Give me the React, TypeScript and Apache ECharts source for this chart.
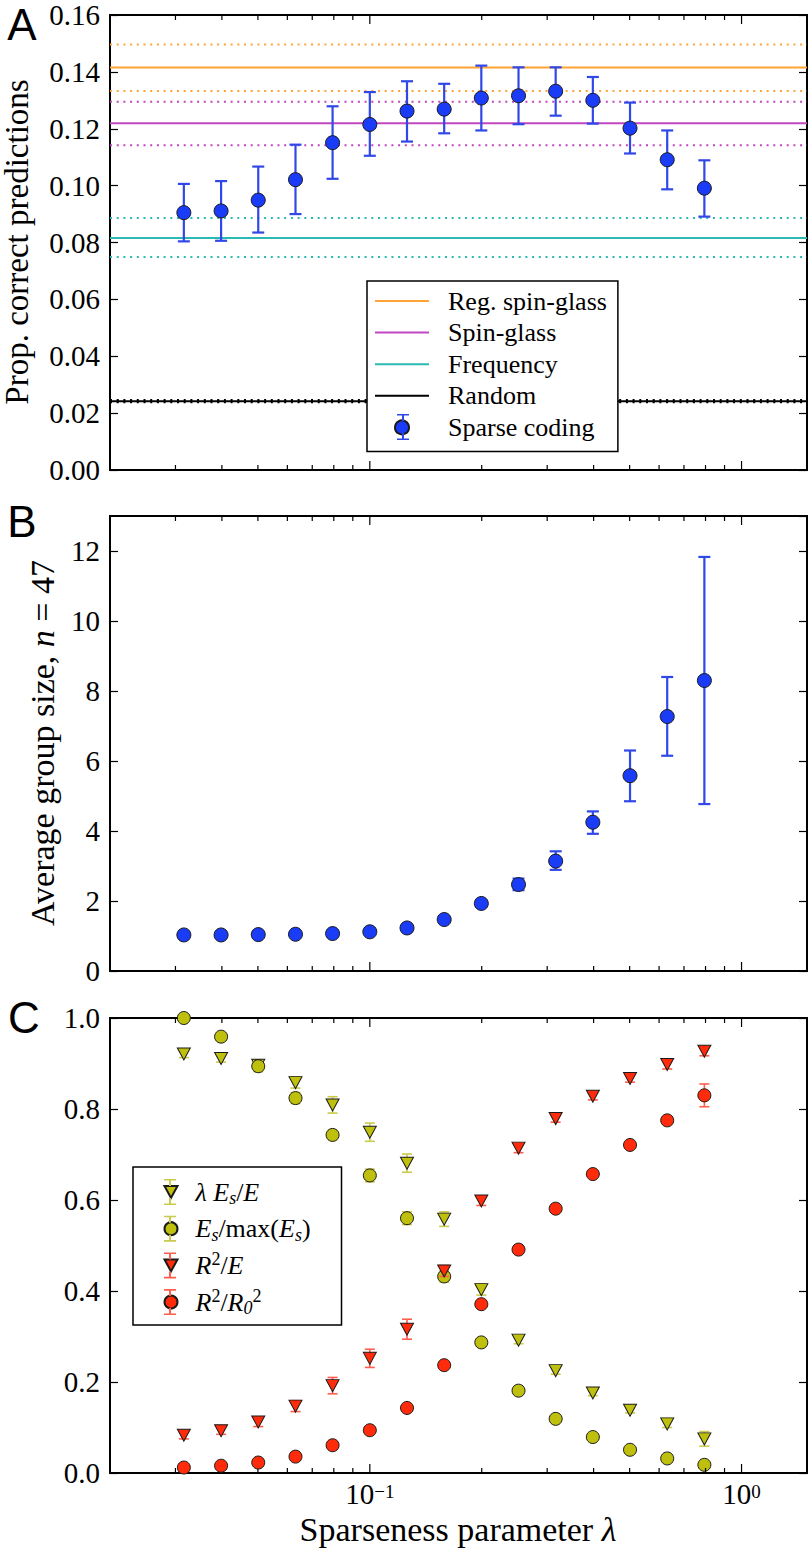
import React, { useEffect, useRef } from 'react';
import * as echarts from 'echarts';

// ---------- shared x (sparseness parameter λ) ----------
const lambdas = [0.0316, 0.0398, 0.0501, 0.0631, 0.0794, 0.1, 0.1259, 0.1585, 0.1995, 0.2512, 0.3162, 0.3981, 0.5012, 0.631, 0.7943];
const xMin = 0.02;
const xMax = 1.5;
const xMajorTicks = [0.1, 1];
const xMinorTicks = [0.03, 0.04, 0.05, 0.06, 0.07, 0.08, 0.09, 0.2, 0.3, 0.4, 0.5, 0.6, 0.7, 0.8, 0.9];

// ---------- panel A ----------
const propCorrect = [0.0905, 0.0911, 0.0949, 0.1021, 0.1151, 0.1215, 0.1262, 0.1269, 0.1308, 0.1316, 0.1332, 0.13, 0.1202, 0.1091, 0.0991];
const propLow = [0.0804, 0.0806, 0.0835, 0.09, 0.1024, 0.1105, 0.1155, 0.1184, 0.1194, 0.1216, 0.1246, 0.1218, 0.1113, 0.0987, 0.0891];
const propHigh = [0.1006, 0.1016, 0.1067, 0.1144, 0.1279, 0.1329, 0.1367, 0.1358, 0.1422, 0.1416, 0.1416, 0.1382, 0.1292, 0.1194, 0.1089];
const baselineNames = ['Reg. spin-glass', 'Spin-glass', 'Frequency', 'Random'];
const baselineValues = [0.1415, 0.1219, 0.0816, 0.0242];
const baselineLower = [0.1333, 0.1142, 0.0749, 0.0238];
const baselineUpper = [0.1496, 0.1295, 0.0886, 0.0246];
const baselineColors = ['#ffa435', '#c146c1', '#2bbab3', '#000000'];
const yA = { min: 0, max: 0.16, interval: 0.02 };

// ---------- panel B ----------
const groupSize = [1.03, 1.03, 1.04, 1.05, 1.07, 1.12, 1.23, 1.47, 1.93, 2.47, 3.14, 4.25, 5.58, 7.27, 8.3];
const groupLow = [1.0, 1.0, 1.01, 1.02, 1.04, 1.08, 1.18, 1.41, 1.85, 2.31, 2.89, 3.92, 4.85, 6.15, 4.77];
const groupHigh = [1.06, 1.06, 1.07, 1.08, 1.1, 1.16, 1.28, 1.53, 2.01, 2.64, 3.42, 4.56, 6.3, 8.4, 11.83];
const yB = { min: 0, max: 13, interval: 2 };

// ---------- panel C ----------
const lamEsOverE = [0.921, 0.911, 0.896, 0.858, 0.809, 0.749, 0.681, 0.558, 0.403, 0.292, 0.225, 0.176, 0.138, 0.108, 0.075];
const lamEsOverEErr = [0.008, 0.008, 0.012, 0.012, 0.018, 0.02, 0.02, 0.016, 0.012, 0.008, 0.008, 0.006, 0.006, 0.008, 0.016];
const esOverMax = [1.0, 0.959, 0.894, 0.824, 0.743, 0.654, 0.56, 0.432, 0.287, 0.181, 0.119, 0.079, 0.051, 0.032, 0.018];
const esOverMaxErr = [0.004, 0.008, 0.012, 0.012, 0.01, 0.014, 0.014, 0.012, 0.008, 0.006, 0.005, 0.004, 0.004, 0.003, 0.003];
const r2OverE = [0.083, 0.093, 0.112, 0.147, 0.192, 0.252, 0.316, 0.444, 0.598, 0.714, 0.779, 0.828, 0.867, 0.898, 0.927];
const r2OverEErr = [0.008, 0.008, 0.01, 0.012, 0.018, 0.02, 0.022, 0.012, 0.01, 0.01, 0.008, 0.008, 0.008, 0.01, 0.01];
const r2OverR0 = [0.012, 0.016, 0.023, 0.036, 0.061, 0.094, 0.143, 0.237, 0.371, 0.491, 0.581, 0.657, 0.721, 0.775, 0.83];
const r2OverR0Err = [0.003, 0.003, 0.004, 0.005, 0.006, 0.006, 0.006, 0.006, 0.006, 0.006, 0.006, 0.006, 0.006, 0.008, 0.025];
const yC = { min: 0, max: 1, interval: 0.2 };

const cSeriesNames = ['lamEsE', 'EsMax', 'R2E', 'R2R0'];
const cLegendLabels: Record<string, string> = {
  lamEsE: '{i|λ} {i|E}{sub|s}{n|/}{i|E}',
  EsMax: '{i|E}{sub|s}{n|/max(}{i|E}{sub|s}{n|)}',
  R2E: '{i|R}{sup|2}{n|/}{i|E}',
  R2R0: '{i|R}{sup|2}{n|/}{i|R}{sub|0}{sup|2}',
};

const SERIF = 'Liberation Serif';
const GSERIF = 'serif';
const SANS = 'Liberation Sans';

const BLUE = '#1b3cf7';
const BLUE_ERR = '#3048e8';
const YEL = '#bfbf0e';
const YEL_ERR = '#caca4e';
const RED = '#ff2b0b';
const RED_ERR = '#ff5e4e';
const TRI_DOWN = 'path://M0,0 L12,0 L6,11 Z';
const LINE_ICON = 'path://M0,0 H60 V2.2 H0 Z';

const GRID_LEFT = 110;
const GRID_W = 697;
const GRID_H = 455;
const gridTops = [15, 516, 1018];

function errorBars(name: string, g: number, lows: number[], highs: number[], color: string, width: number, cap: number, z: number) {
  return {
    type: 'custom',
    name,
    xAxisIndex: g,
    yAxisIndex: g * 2,
    data: lambdas.map((x, i) => [x, lows[i], highs[i]]),
    encode: { x: 0, y: [1, 2] },
    itemStyle: { color },
    clip: false,
    silent: true,
    z,
    renderItem: (params: any, api: any) => {
      const x = api.value(0);
      const lo = api.coord([x, api.value(1)]);
      const hi = api.coord([x, api.value(2)]);
      const h = cap / 2;
      const style = { stroke: color, lineWidth: width, fill: 'none' };
      return {
        type: 'group',
        children: [
          { type: 'line', shape: { x1: lo[0], y1: lo[1], x2: hi[0], y2: hi[1] }, style },
          { type: 'line', shape: { x1: lo[0] - h, y1: lo[1], x2: lo[0] + h, y2: lo[1] }, style },
          { type: 'line', shape: { x1: hi[0] - h, y1: hi[1], x2: hi[0] + h, y2: hi[1] }, style },
        ],
      };
    },
  };
}

function xTicks(g: number, values: number[], len: number) {
  return {
    type: 'custom',
    xAxisIndex: g,
    yAxisIndex: g * 2,
    data: values.map((v) => [v, 0]),
    encode: { x: 0, y: 1 },
    clip: false,
    silent: true,
    z: 10,
    renderItem: (params: any, api: any) => {
      const cs = params.coordSys;
      const x = api.coord([api.value(0), api.value(1)])[0];
      const style = { stroke: '#000', lineWidth: 1.2 };
      const bottom = cs.y + cs.height;
      return {
        type: 'group',
        children: [
          { type: 'line', shape: { x1: x, y1: bottom, x2: x, y2: bottom - len }, style },
          { type: 'line', shape: { x1: x, y1: cs.y, x2: x, y2: cs.y + len }, style },
        ],
      };
    },
  };
}

function scatter(name: string, g: number, values: number[], color: string, symbol: string, size: any, z: number) {
  return {
    type: 'scatter',
    name,
    xAxisIndex: g,
    yAxisIndex: g * 2,
    data: lambdas.map((x, i) => [x, values[i]]),
    symbol,
    symbolSize: size,
    itemStyle: { color, borderColor: '#1a1a1a', borderWidth: 1, opacity: 1 },
    z,
    silent: true,
  };
}

// error-bar icon path (12 x 26) with a gap where the marker sits
const ERR_ICON = 'path://M0,0 H12 V1.6 H0 Z M5,0 H7 V7 H5 Z M5,19 H7 V26 H5 Z M0,24.4 H12 V26 H0 Z';

export default function App() {
  const ref = useRef<HTMLDivElement>(null);

  useEffect(() => {
    if (!ref.current) return;
    const chart = echarts.init(ref.current, undefined, { renderer: 'svg' });

    const xAxes = [0, 1, 2].map((g) => ({
      type: 'log',
      logBase: 10,
      gridIndex: g,
      min: xMin,
      max: xMax,
      axisLine: { show: false },
      axisTick: { show: false },
      minorTick: { show: false },
      splitLine: { show: false },
      axisLabel: {
        show: g === 2,
        margin: 9,
        color: '#000',
        fontFamily: GSERIF,
        formatter: (v: number) => {
          const e = Math.log10(v);
          if (Math.abs(e - Math.round(e)) > 1e-6) return '';
          const r = Math.round(e);
          return '{b|10}{s|' + (r < 0 ? '\u2212' + -r : String(r)) + '}';
        },
        rich: {
          b: { fontSize: 29, fontFamily: GSERIF, color: '#000', lineHeight: 26, verticalAlign: 'bottom' },
          s: { fontSize: 19, fontFamily: GSERIF, color: '#000', lineHeight: 14, verticalAlign: 'top' },
        },
      },
    }));

    const yCfgs = [yA, yB, yC];
    const yFmt = [(v: number) => v.toFixed(2), (v: number) => (v > 12 ? '' : String(v)), (v: number) => v.toFixed(1)];
    const yAxes: any[] = [];
    [0, 1, 2].forEach((g) => {
      const base = {
        type: 'value',
        gridIndex: g,
        min: yCfgs[g].min,
        max: yCfgs[g].max,
        interval: yCfgs[g].interval,
        axisLine: { show: false },
        splitLine: { show: false },
        axisTick: { show: true, inside: true, length: 8, lineStyle: { color: '#000', width: 1.2 } },
      };
      yAxes.push({
        ...base,
        position: 'left',
        axisLabel: {
          show: true,
          color: '#000',
          fontFamily: GSERIF,
          fontSize: 29,
          margin: 10,
          showMaxLabel: g !== 1,
          formatter: (v: number) => yFmt[g](v),
        },
      });
      yAxes.push({ ...base, position: 'right', axisLabel: { show: false } });
    });

    const series: any[] = [];
    // Panel A baselines
    baselineNames.forEach((name, i) => {
      series.push({
        type: 'line',
        name,
        xAxisIndex: 0,
        yAxisIndex: 0,
        data: [[xMin, baselineValues[i]], [xMax, baselineValues[i]]],
        symbol: 'none',
        showSymbol: false,
        lineStyle: { color: baselineColors[i], width: 2 },
        itemStyle: { color: baselineColors[i] },
        silent: true,
        z: 2,
      });
      [baselineLower[i], baselineUpper[i]].forEach((v, k) => {
        series.push({
          type: 'line',
          name: name + (k ? ' upper' : ' lower'),
          xAxisIndex: 0,
          yAxisIndex: 0,
          data: [[xMin, v], [xMax, v]],
          symbol: 'none',
          lineStyle: { color: baselineColors[i], width: 2, type: [2, 4.7] },
          silent: true,
          z: 2,
        });
      });
    });
    series.push(errorBars('Sparse coding err', 0, propLow, propHigh, BLUE_ERR, 2.2, 12, 3));
    series.push(scatter('Sparse coding', 0, propCorrect, BLUE, 'circle', 14, 4));
    series.push(xTicks(0, xMinorTicks, 5));
    series.push(xTicks(0, xMajorTicks, 9));

    // Panel B
    series.push(errorBars('Group size err', 1, groupLow, groupHigh, BLUE_ERR, 2.2, 12, 3));
    series.push(scatter('Group size', 1, groupSize, BLUE, 'circle', 14, 4));
    series.push(xTicks(1, xMinorTicks, 5));
    series.push(xTicks(1, xMajorTicks, 9));

    // Panel C
    const cVals = [lamEsOverE, esOverMax, r2OverE, r2OverR0];
    const cErrs = [lamEsOverEErr, esOverMaxErr, r2OverEErr, r2OverR0Err];
    const cCols = [YEL, YEL, RED, RED];
    const cErrCols = [YEL_ERR, YEL_ERR, RED_ERR, RED_ERR];
    const cSyms = [TRI_DOWN, 'circle', TRI_DOWN, 'circle'];
    const cSizes: any[] = [[13, 12], 13, [13, 12], 13];
    cSeriesNames.forEach((name, k) => {
      const v = cVals[k];
      const e = cErrs[k];
      series.push(errorBars(name + ' err', 2, v.map((y, i) => y - e[i]), v.map((y, i) => y + e[i]), cErrCols[k], 1.6, 10, 3 + k * 2));
      series.push(scatter(name, 2, v, cCols[k], cSyms[k], cSizes[k], 4 + k * 2));
    });
    series.push(xTicks(2, xMinorTicks, 5));
    series.push(xTicks(2, xMajorTicks, 9));

    const legendCRich: any = {
      i: { fontSize: 26, fontStyle: 'italic', fontFamily: GSERIF, lineHeight: 30 },
      n: { fontSize: 26, fontFamily: GSERIF, lineHeight: 30 },
      sub: { fontSize: 18, fontStyle: 'italic', fontFamily: GSERIF, lineHeight: 18, verticalAlign: 'bottom' },
      sup: { fontSize: 18, fontFamily: GSERIF, lineHeight: 18, verticalAlign: 'top' },
    };
    const legendCText = {
      fontSize: 26,
      fontFamily: GSERIF,
      color: '#000',
      lineHeight: 30,
      width: 140,
      padding: [0, 0, 0, 13],
      rich: legendCRich,
    };
    const transparentRich: any = {};
    Object.keys(legendCRich).forEach((k) => (transparentRich[k] = { ...legendCRich[k], color: 'transparent' }));

    const titleRich = {
      n: { fontFamily: GSERIF, fontSize: 34, fill: '#000' },
      i: { fontFamily: GSERIF, fontSize: 34, fontStyle: 'italic', fill: '#000' },
    };

    const option: any = {
      animation: false,
      backgroundColor: '#fff',
      textStyle: { fontFamily: GSERIF, color: '#000' },
      grid: gridTops.map((t) => ({
        left: GRID_LEFT,
        top: t,
        width: GRID_W,
        height: GRID_H,
        show: true,
        borderColor: '#000',
        borderWidth: 2,
        backgroundColor: 'transparent',
        containLabel: false,
      })),
      xAxis: xAxes,
      yAxis: yAxes,
      legend: [
        {
          orient: 'vertical',
          left: 367,
          top: 281,
          padding: [7, 11, 11, 8],
          itemWidth: 54,
          itemHeight: 14,
          itemGap: 5.6,
          selectedMode: false,
          backgroundColor: '#fff',
          borderColor: '#000',
          borderWidth: 1.5,
          borderRadius: 0,
          textStyle: { fontSize: 26, fontFamily: SERIF, color: '#000', lineHeight: 26, width: 149, padding: [0, 0, 0, 14] },
          data: [
            ...baselineNames.map((n) => ({ name: n, icon: LINE_ICON, itemStyle: { borderWidth: 0 } })),
            { name: 'Sparse coding' },
          ],
          z: 20,
        },
        {
          orient: 'vertical',
          left: 397,
          top: 414,
          padding: 0,
          itemWidth: 12,
          itemHeight: 26,
          selectedMode: false,
          itemStyle: { borderWidth: 0 },
          textStyle: { color: 'transparent', fontSize: 1 },
          formatter: () => '',
          data: [{ name: 'Sparse coding err', icon: ERR_ICON }],
          z: 21,
        },
        {
          orient: 'vertical',
          left: 133,
          top: 1167,
          padding: [10, 6, 8, 30.5],
          itemWidth: 13,
          itemHeight: 13,
          itemGap: 6.7,
          selectedMode: false,
          backgroundColor: '#fff',
          borderColor: '#000',
          borderWidth: 1.5,
          textStyle: legendCText,
          formatter: (name: string) => cLegendLabels[name],
          data: cSeriesNames,
          z: 20,
        },
        {
          orient: 'vertical',
          left: 133,
          top: 1167,
          padding: [10, 6, 8, 31],
          itemWidth: 12,
          itemHeight: 26,
          itemGap: 6.7,
          selectedMode: false,
          itemStyle: { borderWidth: 0 },
          textStyle: { ...legendCText, color: 'transparent', rich: transparentRich },
          formatter: (name: string) => cLegendLabels[name.replace(' err', '')],
          data: cSeriesNames.map((n) => ({ name: n + ' err', icon: ERR_ICON })),
          z: 21,
        },
      ],
      graphic: [
        { type: 'text', x: 22, y: 24, style: { text: 'A', fontSize: 44, fontFamily: SANS, fill: '#000', align: 'center', verticalAlign: 'middle' } },
        { type: 'text', x: 22, y: 521, style: { text: 'B', fontSize: 44, fontFamily: SANS, fill: '#000', align: 'center', verticalAlign: 'middle' } },
        { type: 'text', x: 24, y: 1017, style: { text: 'C', fontSize: 44, fontFamily: SANS, fill: '#000', align: 'center', verticalAlign: 'middle' } },
        {
          type: 'text', x: 17, y: 242, rotation: Math.PI / 2,
          style: { text: 'Prop. correct predictions', fontSize: 33, fontFamily: SERIF, fill: '#000', align: 'center', verticalAlign: 'middle' },
        },
        {
          type: 'text', x: 42, y: 743, rotation: Math.PI / 2,
          style: {
            text: '{n|Average group size, }{i|n}{n| = 47}',
            fontSize: 34, fontFamily: GSERIF,
            align: 'center', verticalAlign: 'middle', fill: '#000',
            rich: titleRich,
          },
        },
        {
          type: 'text', x: 458, y: 1529,
          style: {
            text: '{n|Sparseness parameter }{i|λ}',
            fontSize: 34, fontFamily: GSERIF,
            align: 'center', verticalAlign: 'middle', fill: '#000',
            rich: titleRich,
          },
        },
      ],
      series,
    };

    chart.setOption(option);
    return () => chart.dispose();
  }, []);

  return <div ref={ref} style={{ position: 'absolute', left: 0, top: 0, width: 810, height: 1548, background: '#fff' }} />;
}
